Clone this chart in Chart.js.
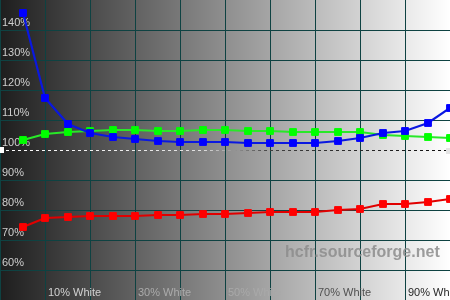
<!DOCTYPE html>
<html>
<head>
<meta charset="utf-8">
<script src="https://cdn.jsdelivr.net/npm/chart.js@4/dist/chart.umd.min.js"></script>
<style>
  html, body { margin: 0; padding: 0; background: #fff; }
  #wrap { width: 450px; height: 300px; }
</style>
</head>
<body>
<div id="wrap"><canvas id="c" width="450" height="300"></canvas></div>
<script>
// Stimulus levels (% white)
const levels = [5, 10, 15, 20, 25, 30, 35, 40, 45, 50, 55, 60, 65, 70, 75, 80, 85, 90, 95, 100];
// Relative RGB levels (%)
const blueValues  = [145.7, 117.4, 108.7, 105.8, 104.2, 103.8, 103.1, 102.6, 102.7, 102.8, 102.2, 102.2, 102.4, 102.2, 103.1, 104.1, 105.8, 106.4, 109.1, 114.1];
const greenValues = [103.3, 105.2, 105.9, 106.3, 106.7, 106.7, 106.4, 106.4, 106.7, 106.7, 106.4, 106.4, 106.1, 106.1, 106.1, 106.1, 105.0, 104.7, 104.4, 103.9];
const redValues   = [74.2, 77.3, 77.6, 78.0, 78.0, 78.0, 78.3, 78.3, 78.7, 78.7, 79.1, 79.3, 79.3, 79.3, 79.9, 80.4, 82.1, 82.1, 82.8, 83.7];
// Tick labels
const xTickLabels = { 10: '10% White', 30: '30% White', 50: '50% White', 70: '70% White', 90: '90% White' };
const xTickColors = { 10: '#d2d2d2', 30: '#ababab', 50: '#a9a9a9', 70: '#505050', 90: '#262626' };
const yTickValues = [60, 70, 80, 90, 100, 110, 120, 130, 140];
const watermark = 'hcfr.sourceforge.net';

const toPts = vals => vals.map((v, i) => ({ x: levels[i], y: v }));

const zeroFit = (s, horiz) => {
  if (horiz) s.height = 0; else s.width = 0;
  s.paddingTop = 0; s.paddingBottom = 0; s.paddingLeft = 0; s.paddingRight = 0;
};

const bgPlugin = {
  id: 'bg',
  beforeDraw(chart) {
    const ctx = chart.ctx;
    const g = ctx.createLinearGradient(0, 0, chart.width, 0);
    g.addColorStop(0, '#1e1e1e');
    g.addColorStop(1, '#ffffff');
    ctx.save();
    ctx.fillStyle = g;
    ctx.fillRect(0, 0, chart.width, chart.height);
    ctx.restore();
  },
  beforeDatasetsDraw(chart) {
    const ctx = chart.ctx;
    const ys = chart.scales.y;
    const area = chart.chartArea;
    const y = Math.round(ys.getPixelForValue(100)) + 0.5;
    const g = ctx.createLinearGradient(area.left, 0, area.right, 0);
    g.addColorStop(0, '#ffffff');
    g.addColorStop(0.45, '#e0e0e0');
    g.addColorStop(0.6, '#404040');
    g.addColorStop(1, '#101010');
    ctx.save();
    ctx.strokeStyle = g;
    ctx.lineWidth = 1;
    ctx.setLineDash([3, 3]);
    ctx.beginPath();
    ctx.moveTo(area.left, y);
    ctx.lineTo(area.right, y);
    ctx.stroke();
    ctx.setLineDash([]);
    ctx.fillStyle = '#ffffff';
    ctx.fillRect(area.left, y - 3.5, 4, 6);
    ctx.fillStyle = '#e4e4e4';
    ctx.fillRect(area.right - 4, y - 2.5, 4, 6);
    // watermark
    ctx.font = 'bold 16px "Liberation Sans", Arial, sans-serif';
    ctx.fillStyle = 'rgba(140,140,140,0.85)';
    ctx.textAlign = 'left';
    ctx.textBaseline = 'middle';
    ctx.fillText(watermark, 285, 253);
    ctx.restore();
  }
};

const mk = (label, vals, line, point) => ({
  label,
  data: toPts(vals),
  borderColor: line,
  backgroundColor: point,
  borderWidth: 2.2,
  pointStyle: 'rect',
  pointRadius: 4.8,
  pointBorderWidth: 1,
  pointBorderColor: point,
  pointBackgroundColor: point,
  tension: 0
});

new Chart(document.getElementById('c'), {
  type: 'line',
  data: {
    datasets: [
      mk('Blue', blueValues, '#0a18e0', '#0000ff'),
      mk('Green', greenValues, '#28e828', '#00ff00'),
      mk('Red', redValues, '#e00000', '#ff0000')
    ]
  },
  options: {
    responsive: false,
    animation: false,
    devicePixelRatio: 1,
    layout: { padding: 0, autoPadding: false },
    plugins: { legend: { display: false }, title: { display: false }, tooltip: { enabled: false } },
    scales: {
      x: {
        type: 'linear',
        min: 0,
        max: 100,
        alignToPixels: true,
        border: { display: false },
        grid: {
          drawTicks: false,
          lineWidth: 1,
          color: ctx => (ctx.tick && ctx.tick.value === 100) ? 'rgba(0,0,0,0)' : '#0e4242'
        },
        ticks: {
          stepSize: 10,
          mirror: true,
          padding: 0,
          align: 'start',
          labelOffset: 3,
          maxRotation: 0,
          autoSkip: false,
          font: { family: '"Liberation Sans", Arial, sans-serif', size: 11 },
          color: ctx => xTickColors[ctx.tick.value] || '#999',
          callback: v => xTickLabels[v] || ''
        },
        afterFit: s => zeroFit(s, true)
      },
      y: {
        min: 50,
        max: 150,
        alignToPixels: true,
        border: { display: false },
        grid: {
          drawTicks: false,
          lineWidth: 1,
          color: ctx => {
            const v = ctx.tick && ctx.tick.value;
            return (v === 100 || v === 150 || v === 50) ? 'rgba(0,0,0,0)' : '#0e4242';
          }
        },
        ticks: {
          stepSize: 10,
          mirror: true,
          padding: 2,
          labelOffset: -7,
          font: { family: '"Liberation Sans", Arial, sans-serif', size: 11 },
          color: '#cfcfcf',
          callback: v => yTickValues.includes(v) ? v + '%' : ''
        },
        afterFit: s => zeroFit(s, false)
      }
    }
  },
  plugins: [bgPlugin]
});
</script>
</body>
</html>
